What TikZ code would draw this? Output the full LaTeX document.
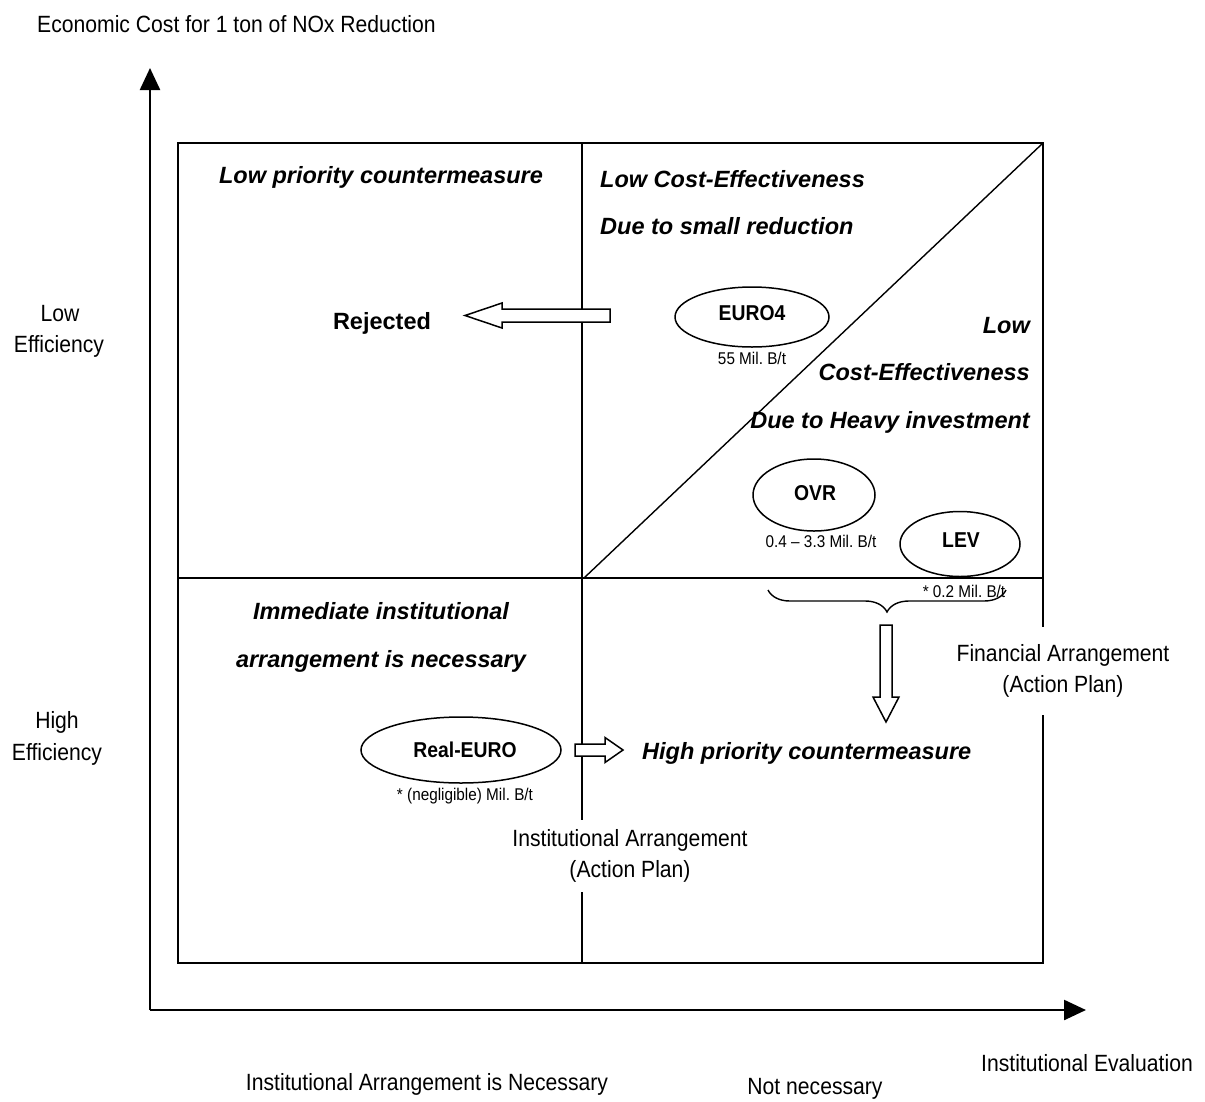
\documentclass[tikz,border=0pt]{standalone}
\usepackage{fontspec}
\setmainfont{Liberation Sans}
\newfontfamily\narrowfont[FakeStretch=0.9]{Liberation Sans}
\usetikzlibrary{arrows.meta,shapes.geometric,decorations.pathreplacing}
\frenchspacing

\begin{document}
\begin{tikzpicture}[x=1pt,y=-1pt,
  every node/.style={inner sep=0pt},
  heading/.style={font=\fontsize{23.5}{28}\selectfont\bfseries\itshape},
  verdict/.style={font=\fontsize{23.5}{28}\selectfont\bfseries},
  plain/.style={font=\narrowfont\fontsize{23.5}{31}\selectfont, align=center},
  note/.style={font=\narrowfont\fontsize{17}{20}\selectfont},
  oval/.style={draw, ellipse, line width=1.5pt},
  ovaltext/.style={font=\narrowfont\fontsize{21.5}{24}\selectfont\bfseries},
  axis/.style={line width=2.4pt, -{Triangle[width=20pt,length=22pt]}},
  frame/.style={line width=1.8pt},
  divider/.style={line width=1.4pt},
  hollow/.style={draw, line width=1.5pt, fill=white, line join=miter},
  curly/.style={line width=1.4pt, decorate, decoration={brace, amplitude=22pt, mirror}},
]
\useasboundingbox (0,0) rectangle (1205,1101);

% axes
\coordinate (origin) at (150,1010);
\coordinate (ytip) at (150,68);
\coordinate (xtip) at (1086,1010);
\draw[axis] (origin) -- (ytip);
\draw[axis] (origin) -- (xtip);

% quadrant frame
\coordinate (nw) at (178,143);
\coordinate (ne) at (1043,143);
\coordinate (se) at (1043,963);
\coordinate (midtop) at (582,143);
\coordinate (midbot) at (582,963);
\coordinate (midleft) at (178,578);
\coordinate (midright) at (1043,578);
\coordinate (centre) at (584,578);
\draw[frame] (nw) rectangle (se);
\draw[divider] (midtop) -- (midbot);
\draw[divider] (midleft) -- (midright);
\draw[divider] (centre) -- (ne);

% axis captions
\node[plain, anchor=base west] (ycap) at (37,32) {Economic Cost for 1 ton of NOx Reduction};
\node[plain, anchor=base] (lowA) at (60,321) {Low};
\node[plain, anchor=base] (lowB) at (59,352) {Efficiency};
\node[plain, anchor=base] (highA) at (57,728) {High};
\node[plain, anchor=base] (highB) at (57,760) {Efficiency};
\node[plain, anchor=base] (xcap) at (1087,1071) {Institutional Evaluation};
\node[plain, anchor=base] (necessary) at (427,1090) {Institutional Arrangement is Necessary};
\node[plain, anchor=base] (notnec) at (815,1094) {Not necessary};

% quadrant headings
\node[heading, anchor=base] (lowprio) at (381,183) {Low priority countermeasure};
\node[heading, anchor=base west] (lceA) at (600,187) {Low Cost-Effectiveness};
\node[heading, anchor=base west] (lceB) at (600,234) {Due to small reduction};
\node[heading, anchor=base east] (hvA) at (1030,333) {Low};
\node[heading, anchor=base east] (hvB) at (1030,380) {Cost-Effectiveness};
\node[heading, anchor=base east] (hvC) at (1030,428) {Due to Heavy investment};
\node[heading, anchor=base] (immA) at (381,619) {Immediate institutional};
\node[heading, anchor=base] (immB) at (381,667) {arrangement is necessary};
\node[heading, anchor=base west] (highprio) at (642,759) {High priority countermeasure};
\node[verdict, anchor=base] (rejected) at (382,329) {Rejected};

% measures
\node[oval, minimum width=154pt, minimum height=60pt] (euro4) at (752,317) {};
\node[ovaltext, anchor=base] (euro4t) at (752,320) {EURO4};
\node[note, anchor=base] (euro4c) at (752,364) {55 Mil. B/t};

\node[oval, minimum width=122pt, minimum height=72pt] (ovr) at (814,495) {};
\node[ovaltext, anchor=base] (ovrt) at (815,500) {OVR};
\node[note, anchor=base] (ovrc) at (821,547) {0.4 – 3.3 Mil. B/t};

\node[oval, minimum width=120pt, minimum height=65pt] (lev) at (960,544) {};
\node[ovaltext, anchor=base] (levt) at (961,547) {LEV};
\node[note, anchor=base] (levc) at (964,597) {* 0.2 Mil. B/t};

\node[oval, minimum width=200pt, minimum height=66pt] (real) at (461,750) {};
\node[ovaltext, anchor=base] (realt) at (465,757) {Real-EURO};
\node[note, anchor=base] (realc) at (465,800) {* (negligible) Mil. B/t};

% hollow block arrows
\draw[hollow] (610,309) -- (502,309) -- (502,303) -- (465,315.5)
  -- (502,328) -- (502,322) -- (610,322) -- cycle;
\draw[hollow] (575,744) -- (605,744) -- (605,737.5) -- (623,750)
  -- (605,762.5) -- (605,756) -- (575,756) -- cycle;
\draw[hollow] (880,625) -- (880,697) -- (873,697) -- (886,722)
  -- (899,697) -- (892,697) -- (892,625) -- cycle;

% grouping brace under OVR and LEV
\coordinate (braceL) at (768,590);
\coordinate (braceR) at (1006,590);
\draw[curly] (braceL) -- (braceR);

% arrangement notes over the frame lines
\node[plain, fill=white, inner xsep=3pt, inner ysep=18pt] (finarr) at (1063,671)
  {Financial Arrangement\\(Action Plan)};
\node[plain, fill=white, inner xsep=3pt, inner ysep=10pt] (instarr) at (630,856)
  {Institutional Arrangement\\(Action Plan)};
\end{tikzpicture}
\end{document}
